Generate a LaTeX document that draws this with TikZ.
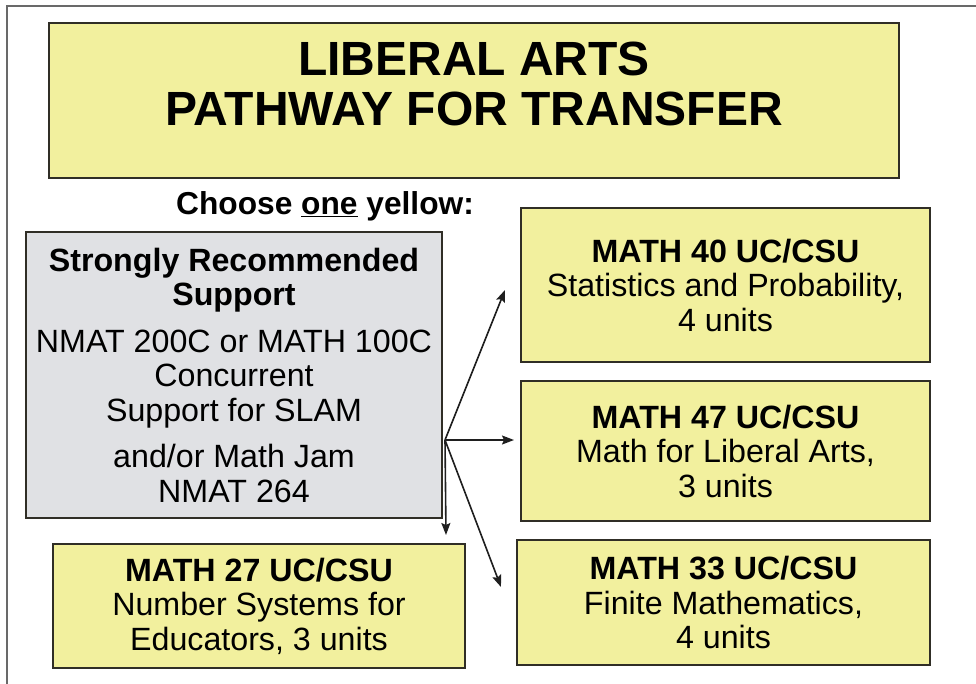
\documentclass[tikz,border=0pt]{standalone}
\usepackage{fontspec}
\setmainfont{Liberation Sans}
\usetikzlibrary{arrows.meta}
\definecolor{boxyellow}{RGB}{242,240,158}
\definecolor{boxgrey}{RGB}{224,225,228}
\definecolor{boxline}{RGB}{48,46,38}
\definecolor{frameline}{RGB}{105,105,105}
\tikzset{
  box/.style={draw=boxline, line width=2pt, fill=boxyellow, align=center, inner sep=0pt,
    font=\fontsize{32.2}{34.5}\selectfont},
  greybox/.style={box, fill=boxgrey},
  titletext/.style={align=center, inner sep=0pt, font=\fontsize{48}{50}\selectfont\bfseries},
  choosetext/.style={inner sep=0pt, font=\fontsize{31.7}{34}\selectfont\bfseries},
  arr/.style={draw=black!88, line width=1.6pt, -{Stealth[length=12pt,width=9pt,inset=2pt]}},
  frame/.style={draw=frameline, line width=1.5pt}
}
\begin{document}
\begin{tikzpicture}[x=1pt,y=-1pt]
\useasboundingbox (0,0) rectangle (976,683);
% outer frame (partially visible)
\draw[frame] (7,690) -- (7,6) -- (990,6);
% title
\node[box, minimum width=850pt, minimum height=155pt] (titlebox) at (474,100.5) {};
\node[titletext] (title) at (474,84) {LIBERAL ARTS\\PATHWAY FOR TRANSFER};
% choose
\node[choosetext] (choose) at (325,206) {Choose \underline{one} yellow:};
% grey support box
\node[greybox, minimum width=416pt, minimum height=286pt] (support) at (234,375)
  {{\bfseries Strongly Recommended}\\{\bfseries Support}\\[12pt]
   NMAT 200C or MATH 100C\\Concurrent\\Support for SLAM\\[12pt]
   and/or Math Jam\\NMAT 264};
% course boxes
\node[box, minimum width=409pt, minimum height=154pt] (m40) at (725.5,285)
  {{\bfseries MATH 40 UC/CSU}\\Statistics and Probability,\\4 units};
\node[box, minimum width=409pt, minimum height=140pt] (m47) at (725.5,451)
  {{\bfseries MATH 47 UC/CSU}\\Math for Liberal Arts,\\3 units};
\node[box, minimum width=413pt, minimum height=125pt] (m33) at (723.5,602.5)
  {{\bfseries MATH 33 UC/CSU}\\Finite Mathematics,\\4 units};
\node[box, minimum width=412pt, minimum height=124pt] (m27) at (259,606)
  {{\bfseries MATH 27 UC/CSU}\\Number Systems for\\Educators, 3 units};
% connectors
\coordinate (hub) at (445,440);
\coordinate (e40) at (505,290);
\coordinate (e47) at (514,440);
\coordinate (e33) at (501,587);
\coordinate (e27) at (446,535);
\draw[arr] (hub) -- (e40);
\draw[arr] (hub) -- (e47);
\draw[arr] (hub) -- (e33);
\draw[arr] (hub) -- (e27);
\end{tikzpicture}
\end{document}
